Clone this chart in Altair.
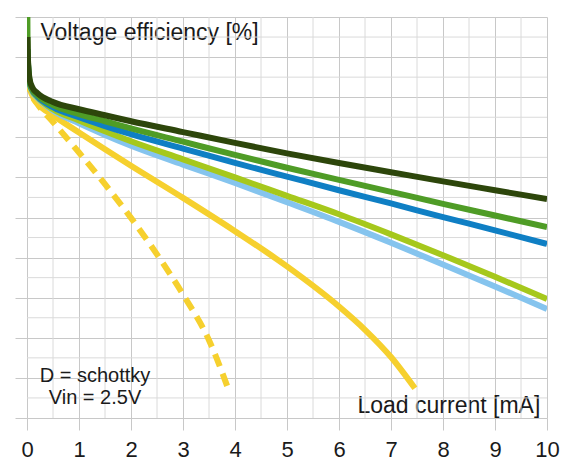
import altair as alt
import pandas as pd

# ---- data ----
x_major = list(range(0, 11))                     # labelled ticks, mA
y_major = list(range(0, 101, 10))                # labelled ticks, %
x_minor = [i + 0.5 for i in range(10)]           # minor grid, mA
y_minor = [i + 5 for i in range(0, 100, 10)]     # minor grid, %

dkgreen_x = [0.01, 0.02, 0.05, 0.1, 0.2, 0.5, 1, 1.5, 2, 3, 4, 5, 6, 7, 8, 9, 10]
dkgreen_y = [95, 89, 84.5, 82.5, 81, 78.8, 77, 75.5, 74, 71.3, 68.6, 66, 63.6, 61.3, 59, 56.8, 54.6]

green_x = [0.003, 0.01, 0.02, 0.05, 0.1, 0.2, 0.5, 1, 1.5, 2, 3, 4, 5, 6, 7, 8, 9, 10]
green_y = [110, 94, 88.5, 84, 82, 80.5, 78, 75.8, 74, 72.2, 68.9, 65.6, 62.4, 59.4, 56.4, 53.4, 50.5, 47.6]

blue_x = [0.01, 0.02, 0.05, 0.1, 0.2, 0.5, 1, 1.5, 2, 3, 4, 5, 6, 7, 8, 9, 10]
blue_y = [92, 88, 83.8, 81.8, 80.2, 77.5, 75, 72.8, 70.8, 67.2, 63.6, 60.2, 56.8, 53.5, 50.1, 46.8, 43.4]

ygreen_x = [0.01, 0.02, 0.05, 0.1, 0.2, 0.5, 1, 1.5, 2, 3, 4, 5, 6, 7, 8, 9, 10]
ygreen_y = [92, 88, 83.6, 81.6, 80, 77, 74.2, 71.5, 69, 64.5, 60, 55.4, 50.8, 45.8, 40.6, 35.2, 29.7]

ltblue_x = [0.01, 0.02, 0.05, 0.1, 0.2, 0.5, 1, 1.5, 2, 3, 4, 5, 6, 7, 8, 9, 10]
ltblue_y = [92, 88, 83.5, 81.4, 79.8, 76.7, 73.5, 70.6, 67.9, 63.2, 58.6, 53.8, 48.9, 43.7, 38.3, 32.8, 27.2]

yellow_x = [0.01, 0.02, 0.05, 0.1, 0.2, 0.5, 1, 1.5, 2, 3, 4, 5, 6, 6.5, 7, 7.46]
yellow_y = [90, 86, 82.5, 80.5, 78.5, 75.5, 71.2, 67.0, 62.9, 54.9, 46.6, 37.8, 27.8, 22.0, 15.2, 7.4]

ydash_x = [0.01, 0.02, 0.05, 0.1, 0.2, 0.5, 1, 1.5, 2, 2.5, 3, 3.5, 3.9]
ydash_y = [90, 86, 82.3, 80.3, 78.3, 73.8, 66.2, 58.3, 49.9, 40.8, 30.8, 19.4, 6.2]

# drawing order (bottom -> top), colour, dash
series = [
    (ydash_x, ydash_y, "#f6d02e", [13, 8]),
    (yellow_x, yellow_y, "#f6d02e", None),
    (ltblue_x, ltblue_y, "#85c4ee", None),
    (ygreen_x, ygreen_y, "#a6c81c", None),
    (blue_x, blue_y, "#0f7fc4", None),
    (green_x, green_y, "#4f9c26", None),
    (dkgreen_x, dkgreen_y, "#2d460b", None),
]

FONT = "Liberation Sans"
TXT = "#1a1a1a"
MAJOR = "#c8c8c8"
MINOR = "#dadada"

x_axis = alt.Axis(
    values=x_major, format="d",
    labelFont=FONT, labelFontSize=22, labelColor=TXT, labelPadding=9,
    labelOverlap=False, labelFlush=False, labelBound=False,
    domain=False, grid=True, gridColor=MAJOR, tickColor=MAJOR, tickSize=12,
    title="Load current [mA]",
    titleFont=FONT, titleFontSize=23, titleFontWeight="normal", titleColor=TXT,
    titleX=330, titleY=-6, titleAlign="left", titleBaseline="alphabetic", titleAngle=0,
)

y_axis = alt.Axis(
    values=y_major, format="d",
    labelFont=FONT, labelFontSize=22, labelColor=TXT, labelPadding=10,
    labelOverlap=False, labelFlush=False, labelBound=False,
    domain=False, grid=True, gridColor=MAJOR, tickColor=MAJOR, tickSize=12,
    title="Voltage efficiency [%]",
    titleFont=FONT, titleFontSize=23, titleFontWeight="normal", titleColor=TXT,
    titleX=13, titleY=22, titleAlign="left", titleBaseline="alphabetic", titleAngle=0,
)

xs = alt.Scale(domain=[0, 10], nice=False, zero=False)
ys = alt.Scale(domain=[0, 100], nice=False)

vgrid = alt.Chart(pd.DataFrame({"v": x_minor})).mark_rule(
    color=MINOR, strokeWidth=1
).encode(x=alt.X("v:Q", scale=xs, axis=x_axis))
hgrid = alt.Chart(pd.DataFrame({"v": y_minor})).mark_rule(
    color=MINOR, strokeWidth=1
).encode(y=alt.Y("v:Q", scale=ys, axis=y_axis))

layers = [vgrid, hgrid]
for sx, sy, col, dash in series:
    df = pd.DataFrame({"current": sx, "eff": sy})
    mk = dict(color=col, strokeWidth=6, clip=True, interpolate="monotone",
              strokeCap="butt", strokeJoin="round")
    if dash:
        mk["strokeDash"] = dash
    layers.append(
        alt.Chart(df).mark_line(**mk).encode(
            x=alt.X("current:Q", scale=xs, axis=x_axis),
            y=alt.Y("eff:Q", scale=ys, axis=y_axis),
        )
    )

note = alt.Chart(pd.DataFrame({"t": [["D = schottky", "Vin = 2.5V"]]})).mark_text(
    font=FONT, fontSize=20, color=TXT, align="center", baseline="alphabetic", lineHeight=22
).encode(x=alt.value(68), y=alt.value(365), text="t")

chart = alt.layer(*layers, note).properties(
    width=520, height=401,
    padding={"left": 19, "top": 9, "right": 13, "bottom": 43},
    autosize=alt.AutoSizeParams(type="none"),
    background="white",
).configure_view(stroke=None)

chart.save("out.html", embed_options={"renderer": "svg", "actions": False})
